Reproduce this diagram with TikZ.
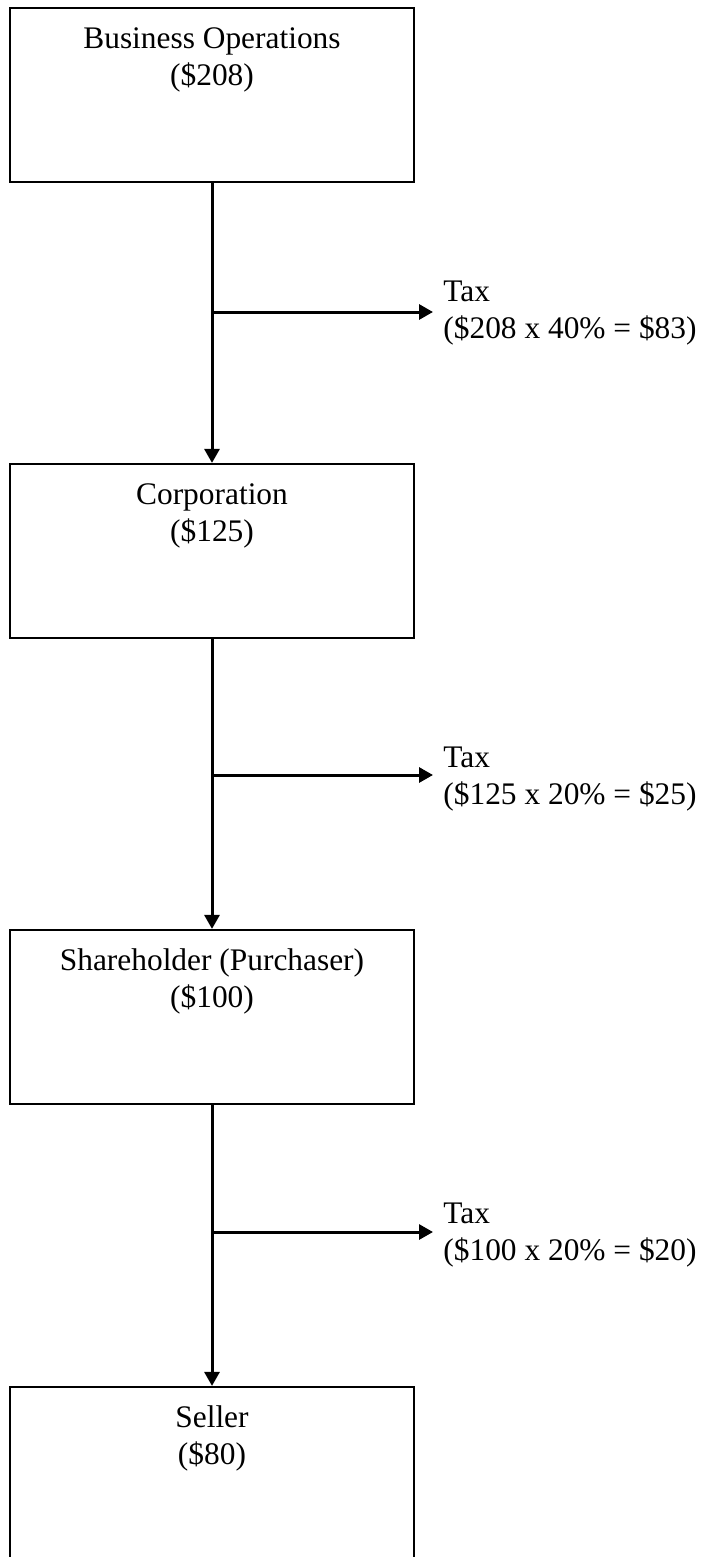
\documentclass[tikz,border=0pt]{standalone}
\usepackage{fontspec}
\setmainfont{Liberation Serif}
\usetikzlibrary{arrows.meta}
\begin{document}
\begin{tikzpicture}[x=0.5pt,y=-0.5pt,
  box/.style={draw, line width=1.1pt, minimum width=202pt, minimum height=87pt, inner sep=0pt},
  boxtext/.style={anchor=north, inner sep=0pt, align=center, font=\fontsize{15.7}{18.5}\selectfont},
  taxtext/.style={anchor=north west, inner sep=0pt, align=left, font=\fontsize{15.7}{18.5}\selectfont},
  flow/.style={line width=1.5pt, -{Triangle[length=7pt,width=7.5pt]}}]
\useasboundingbox (0,0) rectangle (715,1557);
\clip (0,0) rectangle (715,1557);

% boxes
\node[box] (b1) at (212,95) {};
\node[box] (b2) at (212,551) {};
\node[box] (b3) at (212,1017) {};
\node[box] (b4) at (212,1474) {};

% box captions
\node[boxtext] (l1) at (212,22) {\strut Business Operations\\\strut(\$208)};
\node[boxtext] (l2) at (212,478) {\strut Corporation\\\strut(\$125)};
\node[boxtext] (l3) at (212,944) {\strut Shareholder (Purchaser)\\\strut(\$100)};
\node[boxtext] (l4) at (212,1401) {\strut Seller\\\strut(\$80)};

% tax captions
\node[taxtext] (t1) at (443,275) {\strut Tax\\\strut(\$208 x 40\% = \$83)};
\node[taxtext] (t2) at (443,741) {\strut Tax\\\strut(\$125 x 20\% = \$25)};
\node[taxtext] (t3) at (443,1197) {\strut Tax\\\strut(\$100 x 20\% = \$20)};

% main flow
\draw[flow] (b1.south) -- (b2.north);
\draw[flow] (b2.south) -- (b3.north);
\draw[flow] (b3.south) -- (b4.north);

% tax branches
\coordinate (j1) at (212,312);
\coordinate (e1) at (433,312);
\coordinate (j2) at (212,775);
\coordinate (e2) at (433,775);
\coordinate (j3) at (212,1232);
\coordinate (e3) at (433,1232);
\draw[flow] (j1) -- (e1);
\draw[flow] (j2) -- (e2);
\draw[flow] (j3) -- (e3);
\end{tikzpicture}
\end{document}
